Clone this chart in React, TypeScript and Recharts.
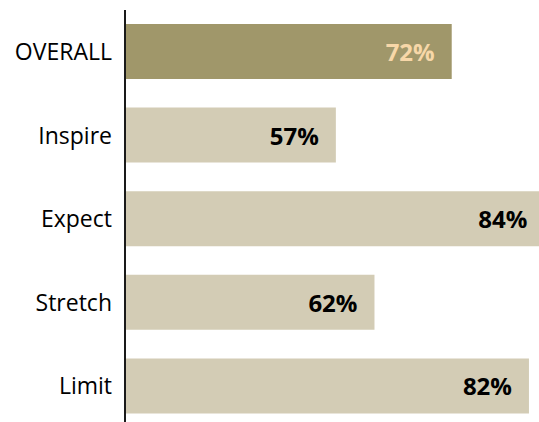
import React from "react";
import { BarChart, Bar, XAxis, YAxis, Cell } from "recharts";

const categories = ["OVERALL", "Inspire", "Expect", "Stretch", "Limit"];
const values = [72, 57, 84, 62, 82];
const barColors = ["#A0976A", "#D3CCB5", "#D3CCB5", "#D3CCB5", "#D3CCB5"];
const labelColors = ["#F7D7A8", "#000000", "#000000", "#000000", "#000000"];

const data = categories.map((c, i) => ({ name: c, value: values[i] }));

const FONT = "'Open Sans', sans-serif";

const renderLabel = (props: any) => {
  const { x, y, width, height, index, value } = props;
  return (
    <text
      x={Number(x) + Number(width) - 17}
      y={Number(y) + Number(height) / 2}
      textAnchor="end"
      dominantBaseline="central"
      fill={labelColors[index]}
      fontFamily={FONT}
      fontWeight={700}
      fontSize={24}
    >
      {value}%
    </text>
  );
};

export default function App() {
  return (
    <div
      style={{
        position: "absolute",
        left: 0,
        top: 0,
        width: 539,
        height: 422,
        overflow: "hidden",
        background: "#fff",
      }}
    >
      <BarChart
        layout="vertical"
        width={539}
        height={428}
        data={data}
        margin={{ top: 10, right: 0, bottom: 0, left: 0 }}
      >
        <XAxis type="number" hide domain={[29.7, 83.3]} allowDataOverflow />
        <YAxis
          type="category"
          dataKey="name"
          width={125}
          tickLine={false}
          tickMargin={7}
          axisLine={{ stroke: "#1a1a1a", strokeWidth: 2 }}
          tick={{ fill: "#000", fontFamily: FONT, fontSize: 23 }}
        />
        <Bar
          dataKey="value"
          barSize={55}
          isAnimationActive={false}
          label={renderLabel}
        >
          {data.map((d, i) => (
            <Cell key={d.name} fill={barColors[i]} />
          ))}
        </Bar>
      </BarChart>
    </div>
  );
}
